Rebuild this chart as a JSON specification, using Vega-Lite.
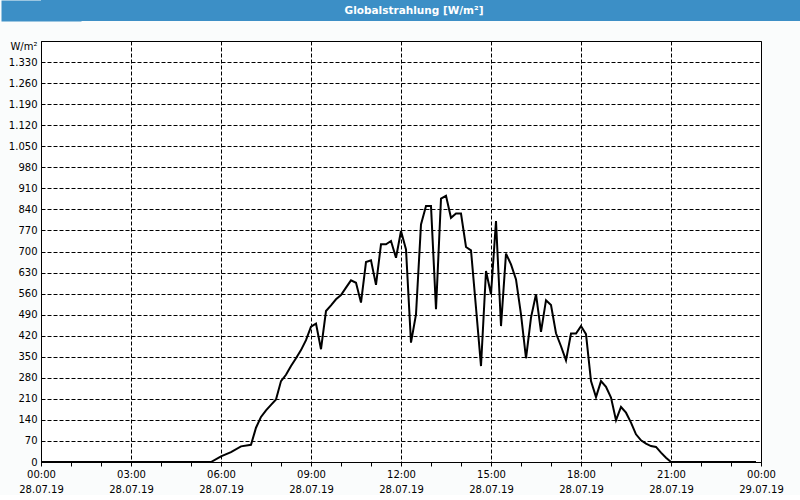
{
  "$schema": "https://vega.github.io/schema/vega-lite/v6.json",
  "background": "#fafcfc",
  "padding": 0,
  "spacing": 19,
  "columns": 1,
  "config": {
    "font": "DejaVu Sans",
    "locale": {"number": {"decimal": ",", "thousands": ".", "grouping": [3], "currency": ["", " €"]}},
    "axis": {
      "labelFont": "DejaVu Sans",
      "labelFontSize": 10,
      "labelColor": "black",
      "gridColor": "black",
      "gridDash": [4, 2],
      "gridWidth": 1,
      "domainColor": "black",
      "tickColor": "black"
    }
  },
  "concat": [
    {
      "width": 760,
      "height": 21,
      "view": {"fill": "#3c8fc6", "stroke": null},
      "data": {"values": [{"title": "Globalstrahlung [W/m²]"}]},
      "mark": {"type": "text", "color": "white", "fontWeight": "bold", "font": "DejaVu Sans", "fontSize": 10.5, "dx": -7},
      "encoding": {
        "text": {"field": "title", "type": "nominal"},
        "y": {
          "field": "title",
          "type": "nominal",
          "axis": {
            "title": null,
            "labels": false,
            "ticks": false,
            "grid": false,
            "domainColor": "#3c8fc6",
            "domainWidth": 80,
            "domainCap": "butt",
            "minExtent": 40,
            "maxExtent": 40
          }
        }
      }
    },
    {
      "width": 720,
      "height": 421,
      "view": {"fill": "white", "stroke": "black", "strokeWidth": 1},
      "data": {
        "values": [
          {"time": "2019-07-28T00:00", "value": 0},
          {"time": "2019-07-28T01:00", "value": 0},
          {"time": "2019-07-28T02:00", "value": 0},
          {"time": "2019-07-28T03:00", "value": 0},
          {"time": "2019-07-28T04:00", "value": 0},
          {"time": "2019-07-28T05:00", "value": 0},
          {"time": "2019-07-28T05:40", "value": 0},
          {"time": "2019-07-28T06:00", "value": 19},
          {"time": "2019-07-28T06:20", "value": 33},
          {"time": "2019-07-28T06:40", "value": 52},
          {"time": "2019-07-28T07:00", "value": 57},
          {"time": "2019-07-28T07:10", "value": 114},
          {"time": "2019-07-28T07:20", "value": 150},
          {"time": "2019-07-28T07:30", "value": 172},
          {"time": "2019-07-28T07:40", "value": 190},
          {"time": "2019-07-28T07:50", "value": 208},
          {"time": "2019-07-28T08:00", "value": 269},
          {"time": "2019-07-28T08:10", "value": 290},
          {"time": "2019-07-28T08:20", "value": 319},
          {"time": "2019-07-28T08:30", "value": 345},
          {"time": "2019-07-28T08:40", "value": 372},
          {"time": "2019-07-28T08:50", "value": 405},
          {"time": "2019-07-28T09:00", "value": 450},
          {"time": "2019-07-28T09:10", "value": 460},
          {"time": "2019-07-28T09:20", "value": 375},
          {"time": "2019-07-28T09:30", "value": 502},
          {"time": "2019-07-28T09:40", "value": 521},
          {"time": "2019-07-28T09:50", "value": 541},
          {"time": "2019-07-28T10:00", "value": 555},
          {"time": "2019-07-28T10:10", "value": 580},
          {"time": "2019-07-28T10:20", "value": 604},
          {"time": "2019-07-28T10:30", "value": 596},
          {"time": "2019-07-28T10:40", "value": 530},
          {"time": "2019-07-28T10:50", "value": 665},
          {"time": "2019-07-28T11:00", "value": 671},
          {"time": "2019-07-28T11:10", "value": 589},
          {"time": "2019-07-28T11:20", "value": 724},
          {"time": "2019-07-28T11:30", "value": 724},
          {"time": "2019-07-28T11:40", "value": 735},
          {"time": "2019-07-28T11:50", "value": 679},
          {"time": "2019-07-28T12:00", "value": 768},
          {"time": "2019-07-28T12:10", "value": 707},
          {"time": "2019-07-28T12:20", "value": 397},
          {"time": "2019-07-28T12:30", "value": 491},
          {"time": "2019-07-28T12:40", "value": 790},
          {"time": "2019-07-28T12:50", "value": 851},
          {"time": "2019-07-28T13:00", "value": 851},
          {"time": "2019-07-28T13:10", "value": 508},
          {"time": "2019-07-28T13:20", "value": 876},
          {"time": "2019-07-28T13:30", "value": 885},
          {"time": "2019-07-28T13:40", "value": 812},
          {"time": "2019-07-28T13:50", "value": 826},
          {"time": "2019-07-28T14:00", "value": 826},
          {"time": "2019-07-28T14:10", "value": 715},
          {"time": "2019-07-28T14:20", "value": 704},
          {"time": "2019-07-28T14:30", "value": 513},
          {"time": "2019-07-28T14:40", "value": 319},
          {"time": "2019-07-28T14:50", "value": 635},
          {"time": "2019-07-28T15:00", "value": 558},
          {"time": "2019-07-28T15:10", "value": 801},
          {"time": "2019-07-28T15:20", "value": 452},
          {"time": "2019-07-28T15:30", "value": 693},
          {"time": "2019-07-28T15:40", "value": 657},
          {"time": "2019-07-28T15:50", "value": 607},
          {"time": "2019-07-28T16:00", "value": 491},
          {"time": "2019-07-28T16:10", "value": 345},
          {"time": "2019-07-28T16:20", "value": 480},
          {"time": "2019-07-28T16:30", "value": 558},
          {"time": "2019-07-28T16:40", "value": 433},
          {"time": "2019-07-28T16:50", "value": 538},
          {"time": "2019-07-28T17:00", "value": 522},
          {"time": "2019-07-28T17:10", "value": 428},
          {"time": "2019-07-28T17:20", "value": 385},
          {"time": "2019-07-28T17:30", "value": 338},
          {"time": "2019-07-28T17:40", "value": 427},
          {"time": "2019-07-28T17:50", "value": 427},
          {"time": "2019-07-28T18:00", "value": 452},
          {"time": "2019-07-28T18:10", "value": 425},
          {"time": "2019-07-28T18:20", "value": 269},
          {"time": "2019-07-28T18:30", "value": 216},
          {"time": "2019-07-28T18:40", "value": 269},
          {"time": "2019-07-28T18:50", "value": 250},
          {"time": "2019-07-28T19:00", "value": 214},
          {"time": "2019-07-28T19:10", "value": 139},
          {"time": "2019-07-28T19:20", "value": 183},
          {"time": "2019-07-28T19:30", "value": 164},
          {"time": "2019-07-28T19:40", "value": 131},
          {"time": "2019-07-28T19:50", "value": 92},
          {"time": "2019-07-28T20:00", "value": 72},
          {"time": "2019-07-28T20:10", "value": 61},
          {"time": "2019-07-28T20:20", "value": 53},
          {"time": "2019-07-28T20:30", "value": 50},
          {"time": "2019-07-28T20:40", "value": 31},
          {"time": "2019-07-28T20:50", "value": 14},
          {"time": "2019-07-28T21:00", "value": 0},
          {"time": "2019-07-28T22:00", "value": 0},
          {"time": "2019-07-28T23:00", "value": 0},
          {"time": "2019-07-28T23:50", "value": 0}
        ]
      },
      "mark": {"type": "line", "color": "black", "strokeWidth": 2},
      "encoding": {
        "x": {
          "field": "time",
          "type": "temporal",
          "title": null,
          "scale": {
            "domain": [
              {"year": 2019, "month": 7, "date": 28, "hours": 0},
              {"year": 2019, "month": 7, "date": 29, "hours": 0}
            ],
            "nice": false
          },
          "axis": {
            "values": [
              {"year": 2019, "month": 7, "date": 28, "hours": 0},
              {"year": 2019, "month": 7, "date": 28, "hours": 1},
              {"year": 2019, "month": 7, "date": 28, "hours": 2},
              {"year": 2019, "month": 7, "date": 28, "hours": 3},
              {"year": 2019, "month": 7, "date": 28, "hours": 4},
              {"year": 2019, "month": 7, "date": 28, "hours": 5},
              {"year": 2019, "month": 7, "date": 28, "hours": 6},
              {"year": 2019, "month": 7, "date": 28, "hours": 7},
              {"year": 2019, "month": 7, "date": 28, "hours": 8},
              {"year": 2019, "month": 7, "date": 28, "hours": 9},
              {"year": 2019, "month": 7, "date": 28, "hours": 10},
              {"year": 2019, "month": 7, "date": 28, "hours": 11},
              {"year": 2019, "month": 7, "date": 28, "hours": 12},
              {"year": 2019, "month": 7, "date": 28, "hours": 13},
              {"year": 2019, "month": 7, "date": 28, "hours": 14},
              {"year": 2019, "month": 7, "date": 28, "hours": 15},
              {"year": 2019, "month": 7, "date": 28, "hours": 16},
              {"year": 2019, "month": 7, "date": 28, "hours": 17},
              {"year": 2019, "month": 7, "date": 28, "hours": 18},
              {"year": 2019, "month": 7, "date": 28, "hours": 19},
              {"year": 2019, "month": 7, "date": 28, "hours": 20},
              {"year": 2019, "month": 7, "date": 28, "hours": 21},
              {"year": 2019, "month": 7, "date": 28, "hours": 22},
              {"year": 2019, "month": 7, "date": 28, "hours": 23},
              {"year": 2019, "month": 7, "date": 29, "hours": 0}
            ],
            "tickSize": 4,
            "labelPadding": 3,
            "labelLineHeight": 15,
            "labelFlush": false,
            "labelOverlap": false,
            "labelExpr": "indexof(['00','03','06','09','12','15','18','21'], timeFormat(datum.value, '%H')) >= 0 ? [timeFormat(datum.value, '%H:%M'), timeFormat(datum.value, '%d.%m.%y')] : ''",
            "grid": true,
            "gridOpacity": {"condition": {"test": "indexof(['00','03','06','09','12','15','18','21'], timeFormat(datum.value, '%H')) >= 0", "value": 1}, "value": 0}
          }
        },
        "y": {
          "field": "value",
          "type": "quantitative",
          "title": "W/m²",
          "scale": {"domain": [0, 1400], "nice": false},
          "axis": {
            "values": [0, 70, 140, 210, 280, 350, 420, 490, 560, 630, 700, 770, 840, 910, 980, 1050, 1120, 1190, 1260, 1330],
            "format": ",.0f",
            "ticks": false,
            "labelPadding": 4,
            "minExtent": 40,
            "maxExtent": 40,
            "grid": true,
            "titleAngle": 0,
            "titleX": -4,
            "titleY": 0,
            "titleAlign": "right",
            "titleBaseline": "top",
            "titleFont": "DejaVu Sans",
            "titleFontSize": 10,
            "titleFontWeight": "normal",
            "titleColor": "black"
          }
        }
      }
    }
  ]
}
